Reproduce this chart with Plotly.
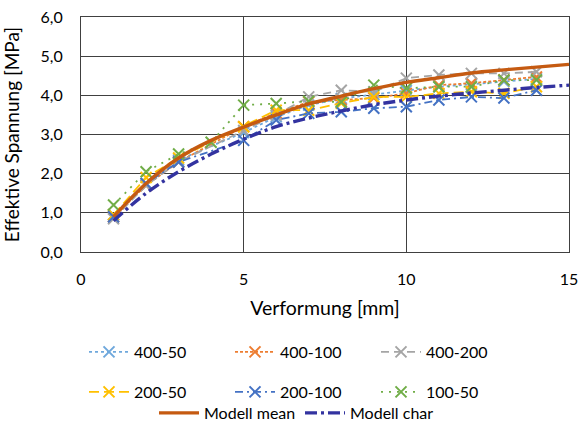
import plotly.graph_objects as go

x_data = [1, 2, 3, 5, 6, 7, 8, 9, 10, 11, 12, 13, 14]
x_green = [1, 2, 3, 4, 5, 6, 7, 8, 9, 10, 11, 12, 13, 14]
x_model = [1, 2, 3, 4, 5, 6, 7, 8, 9, 10, 11, 12, 13, 14, 15]

s_400_50 = [0.95, 1.75, 2.35, 3.05, 3.45, 3.75, 3.92, 4.02, 4.12, 4.22, 4.28, 4.35, 4.42]
s_400_100 = [0.9, 1.7, 2.3, 3.2, 3.55, 3.83, 3.88, 3.93, 4.05, 4.26, 4.31, 4.39, 4.47]
s_400_200 = [0.85, 1.7, 2.3, 3.1, 3.5, 3.96, 4.13, 4.09, 4.44, 4.52, 4.56, 4.56, 4.6]
s_200_50 = [0.95, 1.9, 2.4, 3.2, 3.62, 3.62, 3.8, 3.96, 3.96, 4.05, 4.09, 4.05, 4.22]
s_200_100 = [0.9, 1.75, 2.3, 2.85, 3.37, 3.54, 3.58, 3.67, 3.71, 3.88, 3.96, 3.93, 4.13]
s_100_50 = [1.2, 2.05, 2.5, 2.8, 3.75, 3.79, 3.85, 3.83, 4.26, 4.18, 4.22, 4.22, 4.39, 4.39]

m_mean = [0.9, 1.75, 2.4, 2.85, 3.19, 3.5, 3.78, 3.98, 4.17, 4.33, 4.45, 4.57, 4.65, 4.72, 4.79]
m_char = [0.8, 1.5, 2.05, 2.5, 2.88, 3.2, 3.42, 3.6, 3.76, 3.88, 3.98, 4.06, 4.13, 4.2, 4.26]

FONT = "Lato"

fig = go.Figure()

def add_series(x, y, name, color, dash, legend):
    fig.add_trace(go.Scatter(
        x=x, y=y, name=name, mode="lines+markers",
        line=dict(color=color, width=1.8, dash=dash),
        marker=dict(symbol="x-thin", size=11, line=dict(color=color, width=2)),
        legend=legend,
    ))

add_series(x_data, s_400_50, "400-50", "#6FA8DC", "dot", "legend")
add_series(x_data, s_400_100, "400-100", "#ED7D31", "3px,2px", "legend")
add_series(x_data, s_400_200, "400-200", "#A5A5A5", "8px,5px", "legend")
add_series(x_data, s_200_50, "200-50", "#FFC000", "10px,5px", "legend2")
add_series(x_data, s_200_100, "200-100", "#4472C4", "8px,4px,2px,4px", "legend2")
add_series(x_green, s_100_50, "100-50", "#70AD47", "2px,6px", "legend2")

fig.add_trace(go.Scatter(x=x_model, y=m_mean, name="Modell mean", mode="lines",
                         line=dict(color="#C55A11", width=3.4, shape="spline"), legend="legend3"))
fig.add_trace(go.Scatter(x=x_model, y=m_char, name="Modell char", mode="lines",
                         line=dict(color="#3333A0", width=3.4, dash="12px,4px,3px,4px", shape="spline"),
                         legend="legend3"))

leg_common = dict(orientation="h", bgcolor="rgba(0,0,0,0)", font=dict(family=FONT, size=16, color="#000000"),
                  entrywidth=91, entrywidthmode="pixels", xanchor="left", yanchor="middle", itemwidth=40,
                  xref="container", yref="container")

fig.update_layout(
    width=580, height=426,
    margin=dict(l=81, r=11, t=17, b=174, autoexpand=False),
    paper_bgcolor="white", plot_bgcolor="white",
    separators=",.",
    font=dict(family=FONT, size=16, color="#000000"),
    showlegend=True,
    legend=dict(x=84 / 580, y=1 - 352 / 426, **leg_common),
    legend2=dict(x=84 / 580, y=1 - 392 / 426, **leg_common),
    legend3=dict(x=154 / 580, y=1 - 413 / 426, **leg_common),
    xaxis=dict(range=[0, 15], tickvals=[0, 5, 10, 15], showgrid=True, gridcolor="#404040", gridwidth=1,
               showline=True, linecolor="#404040", linewidth=1, mirror=True, zeroline=False,
               tickfont=dict(family=FONT, size=16), ticklabelstandoff=13,
               title=dict(text="Verformung [mm]", font=dict(family=FONT, size=19.5), standoff=14)),
    yaxis=dict(range=[0, 6], dtick=1, tickformat=".1f", showgrid=True, gridcolor="#404040", gridwidth=1,
               showline=True, linecolor="#404040", linewidth=1, mirror=True, zeroline=False,
               tickfont=dict(family=FONT, size=16), ticklabelstandoff=14,
               title=dict(text="Effektive Spannung [MPa]", font=dict(family=FONT, size=19), standoff=15)),
)

fig.write_html("out.html")
